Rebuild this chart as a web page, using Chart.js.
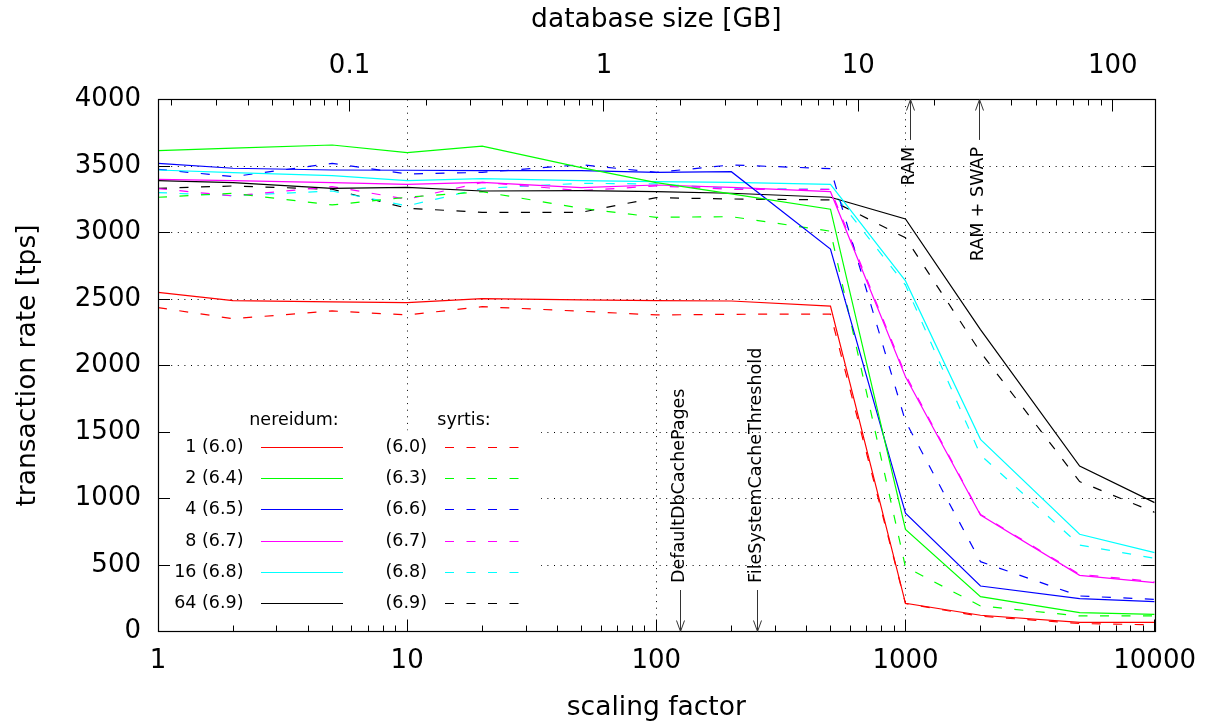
<!DOCTYPE html>
<html>
<head>
<meta charset="utf-8">
<script src="https://cdn.jsdelivr.net/npm/chart.js@4/dist/chart.umd.min.js"></script>
<style>
html,body{margin:0;padding:0;background:#fff;}
#c{display:block;}
</style>
</head>
<body>
<canvas id="c" width="1210" height="724" style="width:1210px;height:724px"></canvas>
<script>
// ---------------- data ----------------
const SCALING = [1, 2, 5, 10, 20, 50, 100, 200, 500, 1000, 2000, 5000, 10000];

// nereidum (solid lines)
const NEREIDUM_1  = [2550, 2488, 2479, 2473, 2503, 2493, 2488, 2485, 2447, 212, 122, 69, 69];
const NEREIDUM_2  = [3615, 3635, 3658, 3600, 3650, 3488, 3375, 3290, 3175, 768, 262, 142, 129];
const NEREIDUM_4  = [3520, 3483, 3470, 3468, 3465, 3465, 3452, 3457, 2876, 889, 342, 247, 224];
const NEREIDUM_8  = [3400, 3390, 3375, 3362, 3377, 3337, 3357, 3340, 3307, 1915, 876, 422, 367];
const NEREIDUM_16 = [3470, 3450, 3427, 3390, 3405, 3390, 3382, 3377, 3362, 2636, 1445, 731, 593];
const NEREIDUM_64 = [3390, 3375, 3332, 3340, 3312, 3315, 3307, 3295, 3265, 3102, 2270, 1244, 969];

// syrtis (dashed lines)
const SYRTIS_1  = [2435, 2352, 2410, 2380, 2442, 2408, 2380, 2385, 2387, 210, 115, 60, 50];
const SYRTIS_2  = [3265, 3295, 3207, 3265, 3307, 3182, 3114, 3119, 3010, 485, 192, 117, 117];
const SYRTIS_4  = [3475, 3420, 3520, 3440, 3452, 3510, 3452, 3508, 3480, 1580, 525, 267, 242];
const SYRTIS_8  = [3330, 3275, 3345, 3250, 3377, 3315, 3350, 3325, 3325, 1930, 880, 430, 375];
const SYRTIS_16 = [3300, 3277, 3312, 3200, 3332, 3370, 3365, 3332, 3325, 2605, 1327, 650, 550];
const SYRTIS_64 = [3332, 3350, 3325, 3182, 3152, 3152, 3262, 3252, 3245, 2960, 2100, 1127, 896];

const NEREIDUM_LABELS = ['1 (6.0)', '2 (6.4)', '4 (6.5)', '8 (6.7)', '16 (6.8)', '64 (6.9)'];
const SYRTIS_LABELS   = ['(6.0)', '(6.3)', '(6.6)', '(6.7)', '(6.8)', '(6.9)'];

const X_TICKS  = [1, 10, 100, 1000, 10000];
const X2_TICKS = [0.1, 1, 10, 100];
const Y_TICKS  = [0, 500, 1000, 1500, 2000, 2500, 3000, 3500, 4000];
const X_GRID   = [10, 100, 1000];
const Y_GRID   = [500, 1000, 1500, 2000, 2500, 3000, 3500];
const X2_RANGE = [0.01767, 146.1];

const MARKER_GB     = [2, 4, 16, 30];
const MARKER_LABELS = ['DefaultDbCachePages', 'FileSystemCacheThreshold', 'RAM', 'RAM + SWAP'];

// ---------------- styles ----------------
const FONT = "'DejaVu Sans', 'Liberation Sans', sans-serif";
const COLORS = ['#ff0000', '#00ff00', '#0000ff', '#ff00ff', '#00ffff', '#000000'];
const DASH = [9, 12.5];

const NEREIDUM = [NEREIDUM_1, NEREIDUM_2, NEREIDUM_4, NEREIDUM_8, NEREIDUM_16, NEREIDUM_64];
const SYRTIS   = [SYRTIS_1, SYRTIS_2, SYRTIS_4, SYRTIS_8, SYRTIS_16, SYRTIS_64];

const datasets = [];
NEREIDUM.forEach((vals, i) => datasets.push({
  label: 'nereidum ' + NEREIDUM_LABELS[i],
  data: SCALING.map((s, j) => ({x: s, y: vals[j]})),
  borderColor: COLORS[i], backgroundColor: COLORS[i],
  borderWidth: 1.2, pointRadius: 0, tension: 0, fill: false
}));
SYRTIS.forEach((vals, i) => datasets.push({
  label: 'syrtis ' + SYRTIS_LABELS[i],
  data: SCALING.map((s, j) => ({x: s, y: vals[j]})),
  borderColor: COLORS[i], backgroundColor: COLORS[i],
  borderWidth: 1.2, borderDash: DASH, pointRadius: 0, tension: 0, fill: false
}));

function seg(ctx, x1, y1, x2, y2) {
  ctx.beginPath(); ctx.moveTo(x1, y1); ctx.lineTo(x2, y2); ctx.stroke();
}
function logMinor(min, max) {
  const out = [];
  for (let e = Math.floor(Math.log10(min)); e <= Math.ceil(Math.log10(max)); e++) {
    for (let m = 2; m <= 9; m++) {
      const v = m * Math.pow(10, e);
      if (v > min * 1.0001 && v < max * 0.9999) out.push(v);
    }
  }
  return out;
}
const crisp = p => Math.round(p - 0.5) + 0.5;

const gnuplotPlugin = {
  id: 'gnuplot',
  beforeDatasetsDraw(chart) {
    const {ctx, chartArea: a, scales} = chart;
    const x = scales.x, y = scales.y;
    ctx.save();
    ctx.strokeStyle = '#000';
    ctx.lineWidth = 1;
    ctx.setLineDash([1, 5.6]);
    Y_GRID.forEach(v => { const p = crisp(y.getPixelForValue(v)); seg(ctx, a.left, p, a.right, p); });
    X_GRID.forEach(v => { const p = crisp(x.getPixelForValue(v)); seg(ctx, p, a.top, p, a.bottom); });
    ctx.setLineDash([]);
    // opaque key box
    const keyTop = y.getPixelForValue(1512);
    const keyRight = a.left + 383;
    ctx.fillStyle = '#fff';
    ctx.fillRect(a.left + 1, keyTop, keyRight - a.left - 1, a.bottom - keyTop);
    ctx.restore();
  },
  afterDatasetsDraw(chart) {
    const {ctx, chartArea: a, scales} = chart;
    const x = scales.x, x2 = scales.x2, y = scales.y;
    ctx.save();
    // frame
    ctx.strokeStyle = '#000';
    ctx.lineWidth = 1.2;
    ctx.strokeRect(crisp(a.left), crisp(a.top), Math.round(a.right - a.left), Math.round(a.bottom - a.top));
    // ticks (inward)
    ctx.lineWidth = 1;
    const MAJ = 12, MIN = 6;
    X_TICKS.forEach(v => { const p = crisp(x.getPixelForValue(v)); seg(ctx, p, a.bottom, p, a.bottom - MAJ); });
    logMinor(x.min, x.max).forEach(v => { const p = crisp(x.getPixelForValue(v)); seg(ctx, p, a.bottom, p, a.bottom - MIN); });
    X2_TICKS.forEach(v => { const p = crisp(x2.getPixelForValue(v)); seg(ctx, p, a.top, p, a.top + MAJ); });
    logMinor(x2.min, x2.max).forEach(v => { const p = crisp(x2.getPixelForValue(v)); seg(ctx, p, a.top, p, a.top + MIN); });
    Y_TICKS.forEach(v => {
      const p = crisp(y.getPixelForValue(v));
      seg(ctx, a.left, p, a.left + MAJ, p);
      seg(ctx, a.right, p, a.right - MAJ, p);
    });

    // marker arrows + rotated labels
    ctx.strokeStyle = '#333';
    ctx.fillStyle = '#000';
    ctx.font = '17.5px ' + FONT;
    ctx.textBaseline = 'middle';
    MARKER_GB.forEach((gb, i) => {
      const px = crisp(x2.getPixelForValue(gb));
      const top = gb >= 10;
      let yTail, yHead, yText, align;
      if (top) {
        yTail = y.getPixelForValue(3696); yHead = a.top; yText = y.getPixelForValue(3643); align = 'right';
      } else {
        yTail = y.getPixelForValue(312); yHead = a.bottom; yText = y.getPixelForValue(365); align = 'left';
      }
      ctx.lineWidth = 1;
      seg(ctx, px, yTail, px, yHead);
      const dir = top ? 1 : -1;
      ctx.beginPath();
      ctx.moveTo(px - 4, yHead + dir * 11);
      ctx.lineTo(px, yHead);
      ctx.lineTo(px + 4, yHead + dir * 11);
      ctx.stroke();
      ctx.save();
      ctx.translate(px - 1.5, yText);
      ctx.rotate(-Math.PI / 2);
      ctx.textAlign = align;
      ctx.fillText(MARKER_LABELS[i], 0, 0);
      ctx.restore();
    });

    // key
    const L = a.left;
    ctx.font = '17.5px ' + FONT;
    ctx.fillStyle = '#000';
    ctx.textAlign = 'center';
    ctx.fillText('nereidum:', L + 136, 420);
    ctx.fillText('syrtis:', L + 306, 420);
    for (let i = 0; i < 6; i++) {
      const ry = 447.5 + i * 31.2;
      ctx.fillStyle = '#000';
      ctx.textAlign = 'right';
      ctx.fillText(NEREIDUM_LABELS[i], L + 85.5, ry);
      ctx.fillText(SYRTIS_LABELS[i], L + 269, ry);
      const ly = crisp(ry);
      ctx.strokeStyle = COLORS[i];
      ctx.lineWidth = 1.2;
      ctx.setLineDash([]);
      seg(ctx, L + 103, ly, L + 185, ly);
      ctx.setLineDash(DASH);
      seg(ctx, L + 287, ly, L + 366, ly);
      ctx.setLineDash([]);
    }
    ctx.restore();
  }
};

const tickFont = {family: FONT, size: 26};
const titleFont = {family: FONT, size: 26.5};

new Chart(document.getElementById('c'), {
  type: 'line',
  data: {datasets},
  plugins: [gnuplotPlugin],
  options: {
    responsive: false,
    devicePixelRatio: 1,
    animation: false,
    layout: {padding: {left: 0, right: 53, top: 0, bottom: 0}},
    plugins: {legend: {display: false}, tooltip: {enabled: false}},
    scales: {
      x: {
        type: 'logarithmic', position: 'bottom', min: 1, max: 10000,
        afterBuildTicks: s => { s.ticks = X_TICKS.map(v => ({value: v})); },
        afterFit: s => { s.height = 92.5; },
        grid: {display: false, drawTicks: false}, border: {display: false},
        ticks: {font: tickFont, color: '#000', padding: 14, maxRotation: 0, autoSkip: false, callback: v => String(v)},
        title: {display: true, text: 'scaling factor', font: titleFont, color: '#000', padding: {top: 0, bottom: 0}}
      },
      x2: {
        type: 'logarithmic', position: 'top', min: X2_RANGE[0], max: X2_RANGE[1],
        afterBuildTicks: s => { s.ticks = X2_TICKS.map(v => ({value: v})); },
        afterFit: s => { s.height = 99.5; },
        grid: {display: false, drawTicks: false}, border: {display: false},
        ticks: {font: tickFont, color: '#000', padding: 18, maxRotation: 0, autoSkip: false, callback: v => String(v)},
        title: {display: true, text: 'database size [GB]', font: titleFont, color: '#000', padding: {top: 4, bottom: 0}}
      },
      y: {
        type: 'linear', position: 'left', min: 0, max: 4000,
        afterBuildTicks: s => { s.ticks = Y_TICKS.map(v => ({value: v})); },
        afterFit: s => { s.width = 158; },
        grid: {display: false, drawTicks: false}, border: {display: false},
        ticks: {font: tickFont, color: '#000', padding: 17, callback: v => String(v)},
        title: {display: true, text: 'transaction rate [tps]', font: titleFont, color: '#000', padding: {top: 12, bottom: 0}}
      }
    }
  }
});
</script>
</body>
</html>
